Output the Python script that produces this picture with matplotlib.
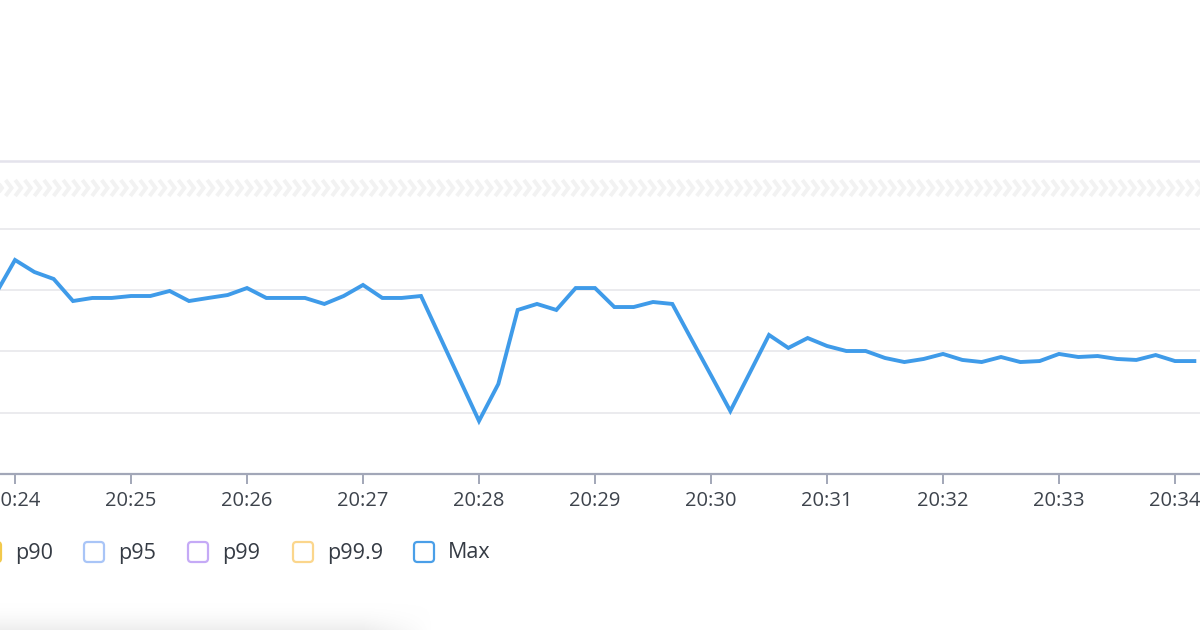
import datetime as dt
import numpy as np
import matplotlib
matplotlib.use("Agg")
import matplotlib.pyplot as plt
import matplotlib.dates as mdates
from matplotlib.collections import LineCollection
from matplotlib.patches import FancyBboxPatch
from matplotlib.transforms import Affine2D

# ---------------- data ----------------
start_time = dt.datetime(2023, 1, 1, 20, 23, 50)
step_seconds = 10
max_values = [
    147.0, 174.7, 164.9, 159.2, 141.2, 143.7, 143.7, 145.3, 145.3, 149.4,
    141.2, 143.7, 146.1, 151.8, 143.7, 143.7, 143.7, 138.8, 145.3, 154.3,
    143.7, 143.7, 145.3, 111.3, 77.3, 43.3, 73.5, 133.9, 138.8, 133.9,
    151.8, 151.8, 136.3, 136.3, 140.4, 138.8, 109.6, 80.6, 51.4, 82.4,
    113.5, 102.9, 111.0, 104.5, 100.4, 100.4, 94.7, 91.4, 93.9, 98.0,
    93.1, 91.4, 95.5, 91.4, 92.2, 98.0, 95.5, 96.3, 93.9, 93.1,
    97.1, 92.2, 92.2,
]
legend_labels = ["p90", "p95", "p99", "p99.9", "Max"]
legend_colors = ["#f2c94c", "#a9c5f7", "#c5aaf6", "#fbd68c", "#4a9fe8"]
grid_values = [50, 100, 150, 200]
y_top = 255.5

times = [start_time + dt.timedelta(seconds=step_seconds * i) for i in range(len(max_values))]

# ---------------- figure ----------------
W, H = 1200, 630
fig = plt.figure(figsize=(W / 100, H / 100), dpi=100)
fig.patch.set_facecolor("white")
plt.rcParams["font.family"] = ["Open Sans", "DejaVu Sans"]

ax_bottom = 474
ax_top = 161
ax = fig.add_axes([0, 1 - ax_bottom / H, 1, (ax_bottom - ax_top) / H])
ax.set_facecolor("none")

x0 = dt.datetime(2023, 1, 1, 20, 23, 52, 240000)
x1 = dt.datetime(2023, 1, 1, 20, 34, 12, 930000)
ax.set_xlim(x0, x1)
ax.set_ylim(0, y_top)

for g in grid_values:
    ax.axhline(g, color="#ebebee", lw=1.4, zorder=1)
ax.axhline(y_top, color="#e4e3ec", lw=1.8, zorder=1, clip_on=False)

ax.plot(times, max_values, color="#3f9be9", lw=2.8, zorder=3,
        solid_joinstyle="miter", clip_on=False)

for s in ["top", "right", "left"]:
    ax.spines[s].set_visible(False)
ax.spines["bottom"].set_color("#a2a7b8")
ax.spines["bottom"].set_linewidth(1.6)
ax.set_yticks([])
ax.xaxis.set_major_locator(mdates.MinuteLocator())
ax.xaxis.set_major_formatter(mdates.DateFormatter("%H:%M"))
ax.tick_params(axis="x", length=7, width=1.4, color="#a2a7b8",
               labelsize=14.5, labelcolor="#3d434c", pad=5)

# pixel transform helper (top-left origin)
pxT = Affine2D().scale(1 / W, -1 / H).translate(0, 1) + fig.transFigure

# chevron band
yc = 188
segs = []
for xs in np.arange(-4, W + 10, 9.6):
    segs.append([(xs, yc - 8), (xs + 6, yc), (xs, yc + 8)])
lc = LineCollection(segs, colors="#f2f2f2", linewidths=2.8, transform=pxT,
                    capstyle="butt", joinstyle="miter")
fig.add_artist(lc)

# legend (manual, rounded squares)
sq_left = [-19, 84, 188, 293, 414]
sq = 20
ly = 552
for lab, col, xl in zip(legend_labels, legend_colors, sq_left):
    p = FancyBboxPatch((xl, ly - sq / 2), sq, sq,
                       boxstyle="round,pad=0,rounding_size=3.5",
                       facecolor="white", edgecolor=col, lw=1.6, transform=pxT)
    fig.add_artist(p)
    fig.text((xl + 34) / W, 1 - (ly + 1) / H, lab, fontsize=15.5,
             color="#353b44", va="center", ha="left")

# bottom shadow (darker toward the bottom edge, fading at right)
sh_ax = fig.add_axes([0, 0, 0.36, 30 / H])
sh_ax.set_axis_off()
ny, nx = 60, 430
yy = np.linspace(0, 1, ny)[:, None]
xx = np.linspace(0, 1, nx)[None, :]
alpha = yy ** 2.0 * np.clip((1 - xx) / 0.16, 0, 1)
img = np.zeros((ny, nx, 4))
img[..., :3] = 0.88
img[..., 3] = alpha * 0.55
sh_ax.imshow(img, aspect="auto", extent=[0, 1, 0, 1], origin="upper")

fig.savefig("out.png", dpi=100, facecolor="white")
